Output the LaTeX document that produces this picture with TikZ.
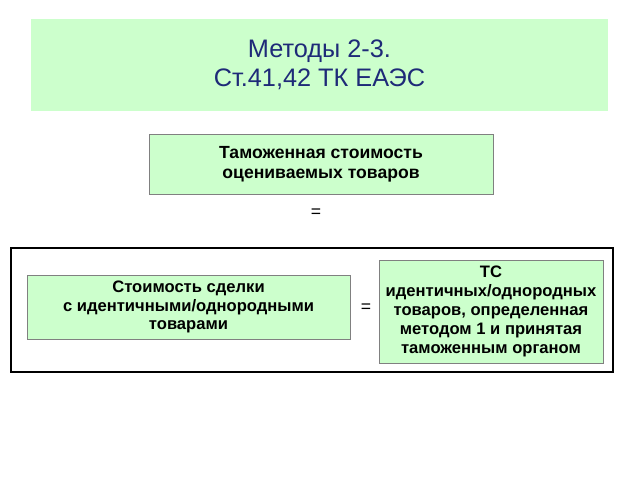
\documentclass[tikz,border=0pt]{standalone}
\usepackage{fontspec}
\setmainfont{Liberation Sans}
\definecolor{paleGreen}{RGB}{204,255,204}
\definecolor{titleBlue}{RGB}{30,42,120}

\begin{document}
\begin{tikzpicture}[x=0.025cm,y=-0.025cm,
    greenbox/.style={draw=gray,fill=paleGreen,align=center,inner sep=2pt,
      font=\fontsize{11.8}{13.4}\selectfont\bfseries},
    eqsign/.style={font=\fontsize{12.5}{14}\selectfont}]
  \useasboundingbox (0,0) rectangle (640,480);
  \node (title) [fill=paleGreen,minimum width=14.425cm,minimum height=2.3cm,
    align=center,text=titleBlue,font=\fontsize{18}{20.6}\selectfont]
    at (319.5,65) {Методы 2-3.\\Ст.41,42 ТК ЕАЭС};
  \node (value) [greenbox,minimum width=8.6cm,minimum height=1.5cm,
    font=\fontsize{12.5}{14.2}\selectfont\bfseries] at (321,164)
    {Таможенная стоимость\\оцениваемых товаров};
  \node (eqtop) [eqsign] at (316,213) {=};
  \node (frame) [draw,line width=1.4pt,minimum width=15.05cm,minimum height=3.1cm]
    at (312,310) {};
  \node (deal) [greenbox,minimum width=8.075cm,minimum height=1.6cm] at (188.5,307)
    {Стоимость сделки\\с идентичными/однородными\\товарами};
  \node (eqin) [eqsign] at (366,308) {=};
  \node (tsm) [greenbox,minimum width=5.6cm,minimum height=2.575cm] at (491,311.5)
    {ТС\\идентичных/однородных\\товаров, определенная\\методом 1 и принятая\\таможенным органом};
\end{tikzpicture}
\end{document}
